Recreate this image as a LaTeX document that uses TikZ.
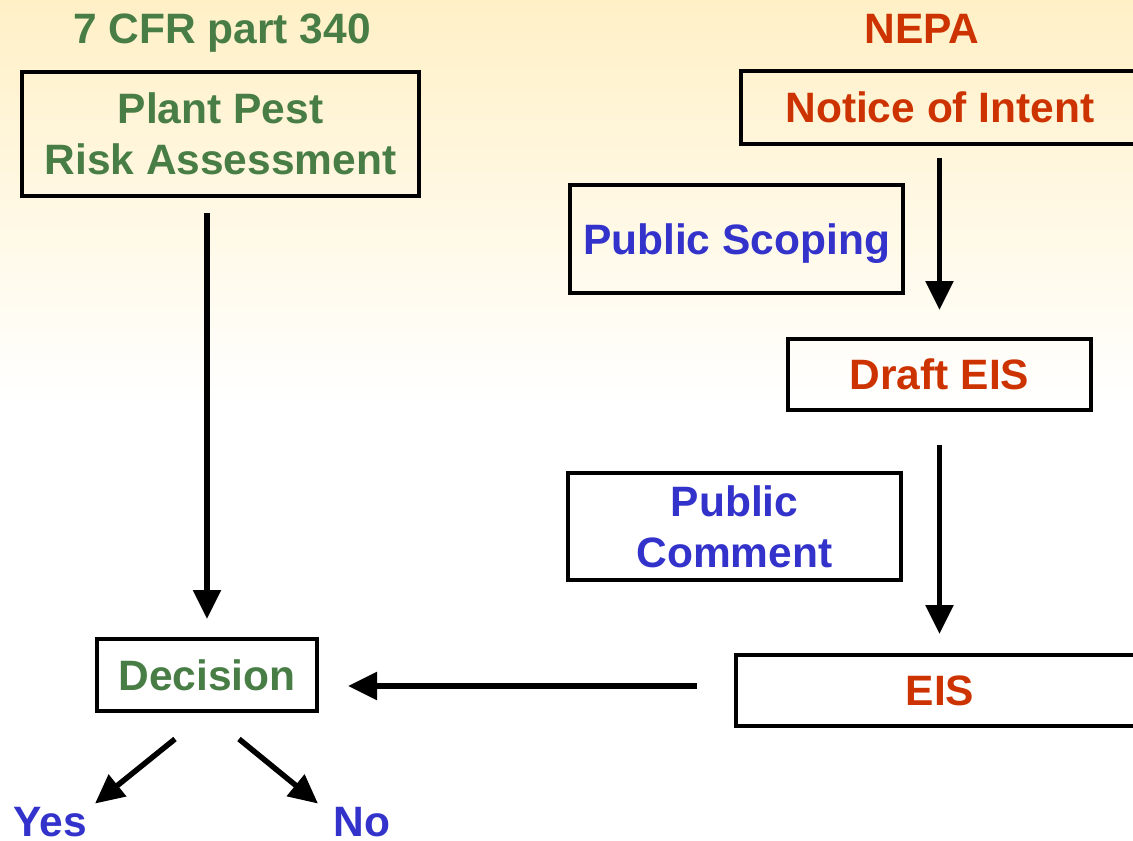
\documentclass[tikz,border=0pt]{standalone}
\usepackage{fontspec}
\setmainfont{Liberation Sans}
\usetikzlibrary{arrows.meta}
\definecolor{cfrgreen}{RGB}{72,125,70}
\definecolor{nepared}{RGB}{204,51,0}
\definecolor{pubblue}{RGB}{51,51,204}
\definecolor{slidetop}{RGB}{255,240,198}

\begin{document}
\begin{tikzpicture}[x=1pt,y=-1pt,
        font=\fontsize{42.5}{51}\selectfont\bfseries,
        stepbox/.style={draw=black,line width=4pt,inner sep=0pt,align=center},
        flow/.style={line width=5.5pt,-{Triangle[length=29pt,width=27pt]}},
        heading/.style={anchor=base,inner sep=0pt}]
\useasboundingbox (0,0) rectangle (1133,841);
\fill[white] (0,0) rectangle (1133,841);
\shade[top color=slidetop,bottom color=white] (0,0) rectangle (1133,400);

\node[heading,text=cfrgreen] (cfr) at (222,43) {7 CFR part 340};
\node[heading,text=nepared] (nepa) at (922,43) {NEPA};

\node[stepbox,text=cfrgreen,minimum width=397pt,minimum height=124pt] (ppra) at (220.5,134) {Plant Pest\\Risk Assessment};
\node[stepbox,text=cfrgreen,minimum width=220pt,minimum height=72pt] (dec) at (207,675) {Decision};

\node[stepbox,text=nepared,minimum width=398pt,minimum height=73pt,text depth=0pt] (noi) at (940,107.5) {Notice of Intent};
\node[stepbox,text=pubblue,minimum width=333pt,minimum height=108pt,text depth=0pt] (scope) at (736.5,239) {Public Scoping};
\node[stepbox,text=nepared,minimum width=303pt,minimum height=71pt] (deis) at (939.5,374.5) {Draft EIS};
\node[stepbox,text=pubblue,minimum width=333pt,minimum height=107pt] (cmt) at (734.5,526.5) {Public\\Comment};
\node[stepbox,text=nepared,minimum width=408pt,minimum height=71pt] (eis) at (940,690.5) {EIS};

\node[heading,text=pubblue] (yes) at (50,836) {Yes};
\node[heading,text=pubblue] (no) at (362,836) {No};

\draw[flow,shorten <=15pt,shorten >=18pt] (ppra.south -| dec.north) -- (dec.north);
\draw[flow,shorten <=12pt,shorten >=27pt] (noi.south -| deis.north) -- (deis.north);
\draw[flow,shorten <=33pt,shorten >=19pt] (deis.south) -- (deis.south |- eis.north);
\draw[flow,shorten <=37pt,shorten >=29pt] ([yshift=4.5pt]eis.west) -- ([yshift=4.5pt]eis.west -| dec.east);

\draw[flow] ([xshift=-32pt,yshift=-26pt]dec.south) -- ([xshift=45pt,yshift=3pt]yes.north);
\draw[flow] ([xshift=32pt,yshift=-26pt]dec.south) -- ([xshift=-44pt,yshift=3pt]no.north);
\end{tikzpicture}
\end{document}
